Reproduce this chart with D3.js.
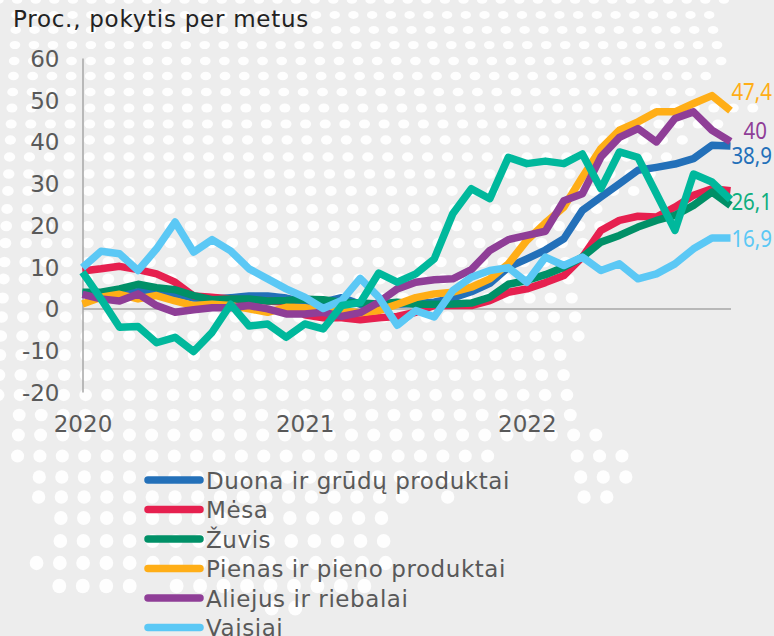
<!DOCTYPE html>
<html><head><meta charset="utf-8">
<script src="https://cdnjs.cloudflare.com/ajax/libs/d3/7.8.5/d3.min.js"></script>
<style>html,body{margin:0;padding:0;background:#EDEDED;overflow:hidden}svg{display:block}</style>
</head><body><div id="chart"></div>
<script>
const yearLabels = ["2020","2021","2022"];
const yearStarts = [0,12,24];
const yTicks = [60,50,40,30,20,10,0,-10,-20];
const legendNames = ["Duona ir grūdų produktai","Mėsa","Žuvis","Pienas ir pieno produktai","Aliejus ir riebalai","Vaisiai"];
const duona = [3.5,3.5,3.3,4,4,3.5,2.5,2.2,2.6,3,3,2.5,1.5,1.5,2.6,1,1,1,1.2,1.5,2.5,4,6,9.9,11.9,14,16.7,23.5,26.7,29.9,33.1,33.8,34.6,35.9,39.1,38.9];
const mesa = [9,9.5,10.1,9.3,8.3,6.3,3,2.7,2.3,2,1.8,1.5,-1.5,-2.2,-2.2,-2.7,-2.2,-1.9,-0.9,0.7,0.7,0.7,1.9,3.9,4.7,6.2,7.9,12.3,18.7,21.1,22.1,21.9,24.3,27.1,28.7,28.2];
const zuvis = [3.9,3.9,4.7,5.8,5,4.5,3.1,2.1,2.3,2.3,1.8,1.9,2.2,2.1,1.5,1.3,1.1,1.5,1,1,1.1,1.3,2.7,5.8,6.7,8.1,9.9,12.3,15.9,17.5,19.5,21.1,22.3,24.7,27.9,24.7];
const pienas = [1.1,2.7,3.4,2.3,3.1,1.8,0.7,1,0.7,-0.1,-0.9,0.3,0.2,-0.5,-0.6,-1,-0.5,1,2.6,3.5,3.9,5.1,7.1,10.7,16.3,20.5,24.3,31.5,38.3,42.7,44.7,47.1,47.1,49.1,51,47.4];
const aliejus = [3.4,2.3,1.8,3.5,0.7,-0.9,-0.3,0.2,0.2,0.7,-0.1,-1.3,-1.3,-0.9,-1.9,-1,1.5,4.7,6.3,6.9,7.1,9.3,13.9,16.5,17.5,18.5,25.8,27.5,36.3,41,43.1,39.9,45.5,47.1,42.7,40];
const vaisiai = [9.8,13.7,13.1,9.1,14.3,20.7,13.5,16.5,13.8,9.5,7.1,4.7,2.7,0,1.9,7.2,2.7,-4,-0.5,-2,4.3,7.5,9.1,9.8,6.3,12.3,10.3,12.3,9.1,10.7,7.1,8.3,10.7,14.3,16.9,16.9];
const neivardyta = [8.7,2.3,-4.5,-4.3,-8.2,-6.9,-10.3,-5.7,1,-4.2,-3.7,-6.9,-3.7,-4.9,0.7,1.4,8.5,6.3,8.3,11.9,22.7,28.7,26.3,36.2,34.7,35.3,34.7,37,28.7,37.5,36.2,27.5,18.7,32.2,30.3,26.1];
const seriesList = [duona,mesa,zuvis,pienas,aliejus,vaisiai,neivardyta];
const seriesColors = ["#2370B9","#E6204F","#009067","#FFAE17","#8F3E97","#5BC8F5","#00B89C"];
const endLabels = ["47,4","40","38,9","26,1","16,9"];
const endValues = [47.4,40,38.9,26.1,16.9];
const endColors = ["#FFAE17","#8F3E97","#2370B9","#0FAE7F","#5BC8F5"];
const endOffsets = [-19,-11,9.5,2,0.5];
const endRight = [772,767,772,772,772];

// decorative dotted map: row centre, first and last x of the dots in that row
const mapRows = [[0,0,733],[15,0,718],[30,0,722],[45,0,728],[61,0,728],[76,0,713],[92,0,707],[108,0,753],[124,0,720],[140,0,683],[157,0,683],[174,0,650],[191,0,633],[209,0,600],[226,0,600],[243,0,585],[262,0,580],[279,0,575],[298,0,575],[317,0,578],[336,0,578],[355,0,578],[375,0,575],[395,0,570],[415,0,573],[435,0,597],[456,18,490],[456,565,620],[477,40,475],[477,565,625],[497,40,405],[497,440,450],[497,570,605],[518,62,380],[541,62,385],[563,38,385],[586,60,135],[586,170,370],[608,262,300]];

const W=774,H=636;
const svg=d3.select("#chart").append("svg").attr("width",W).attr("height",H);
svg.append("rect").attr("width",W).attr("height",H).attr("fill","#EDEDED");

const dots=[];
mapRows.forEach(([ry,a,b])=>{
  const sx=18.6+0.0083*ry;
  for(let k=-8;k<36;k++){
    const cx=125+(k+0.2)*sx;
    if(cx>=a-2&&cx<=b+2) dots.push({cx,cy:ry,rx:5.2+0.003*ry,ry:3.8+0.006*ry});
  }
});
svg.append("g").selectAll("ellipse").data(dots).join("ellipse")
  .attr("cx",d=>d.cx).attr("cy",d=>d.cy).attr("rx",d=>d.rx).attr("ry",d=>d.ry)
  .attr("fill","#fff").attr("opacity",0.92);

const x=d3.scalePoint().domain(d3.range(duona.length)).range([82.5,730.5]);
const y=d3.scaleLinear().domain([-20,60]).range([392,58]);

const yAxis=d3.axisLeft(y).tickValues(yTicks).tickSize(0).tickPadding(23).tickFormat(d3.format("d"));
const gy=svg.append("g").attr("transform","translate(82.5,0)").call(yAxis);
const xAxis=d3.axisBottom(x).tickValues(yearStarts).tickSize(0).tickPadding(0).tickFormat((d,i)=>yearLabels[i]);
const gx=svg.append("g").attr("transform",`translate(0,${y(0)})`).call(xAxis);
gy.selectAll("text").attr("font-family","'DejaVu Sans'").attr("font-size",23).attr("fill","#595959").attr("dy","0.36em")
  .text(d=>d<0?"-"+Math.abs(d):d);
gx.selectAll("text").attr("font-family","'DejaVu Sans'").attr("font-size",23).attr("fill","#595959")
  .attr("y",y(-20)-y(0)+40).attr("dy",0);
[gx,gy].forEach(g=>g.select(".domain").attr("stroke","#A6A6A6").attr("stroke-width",1.5));

const line=d3.line().x((d,i)=>x(i)).y(d=>y(d));
svg.append("g").selectAll("path").data(seriesList).join("path")
  .attr("d",line).attr("fill","none")
  .attr("stroke",(d,i)=>seriesColors[i]).attr("stroke-width",7.5)
  .attr("stroke-linejoin","round").attr("stroke-linecap","butt");

svg.append("g").selectAll("text").data(endLabels).join("text")
  .attr("text-anchor","end")
  .attr("transform",(d,i)=>`translate(${endRight[i]},${y(endValues[i])+endOffsets[i]}) scale(0.89,1)`)
  .attr("dy","0.36em").attr("font-family","'Noto Sans'").attr("font-size",23)
  .attr("fill",(d,i)=>endColors[i]).text(d=>d);

svg.append("text").attr("x",13).attr("y",27).attr("font-family","'DejaVu Sans'").attr("font-size",23).attr("letter-spacing",0.74).attr("fill","#222").text("Proc., pokytis per metus");

const legendY=d3.scalePoint().domain(d3.range(legendNames.length)).range([480,627.5]);
const lg=svg.append("g").selectAll("g").data(legendNames).join("g").attr("transform",(d,i)=>`translate(0,${legendY(i)})`);
lg.append("line").attr("x1",148).attr("x2",200).attr("stroke",(d,i)=>seriesColors[i]).attr("stroke-width",7.5).attr("stroke-linecap","round");
lg.append("text").attr("x",206).attr("dy","0.38em").attr("font-family","'DejaVu Sans'").attr("font-size",23).attr("letter-spacing",0.57).attr("fill","#595959").text(d=>d);
</script></body></html>
